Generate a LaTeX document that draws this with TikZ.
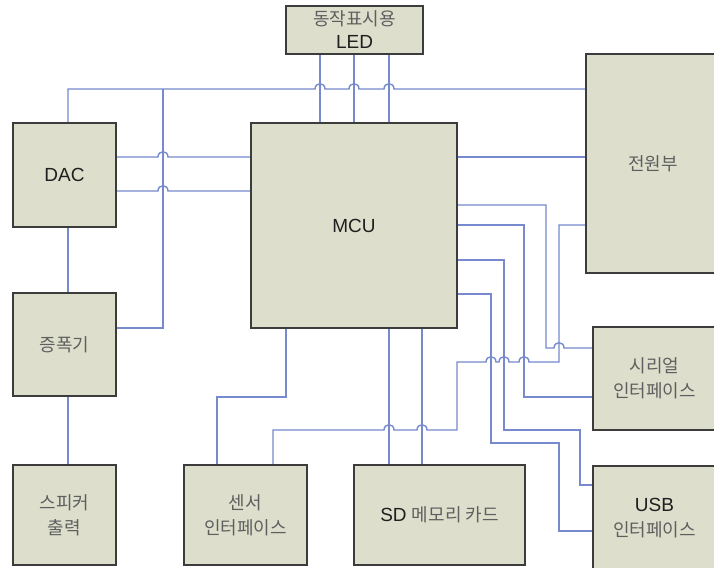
\documentclass[tikz,border=0pt]{standalone}
\usepackage{fontspec}
\setmainfont{Liberation Sans}
\newfontfamily\krfont{Noto Sans CJK KR}
\definecolor{wireblue}{RGB}{118,138,205}
\definecolor{boxfill}{RGB}{221,223,204}
\definecolor{boxline}{RGB}{60,60,60}
\definecolor{krtext}{RGB}{95,95,95}
\newcommand\hangul[1]{{\krfont\fontsize{18}{25}\selectfont\color{krtext}#1}}
\pgfdeclarelayer{background}
\pgfsetlayers{background,main}
\begin{document}
\begin{tikzpicture}[x=1pt,y=-1pt,
  box/.style={draw=boxline,fill=boxfill,line width=1.3pt,inner sep=0pt,align=center,
    font=\fontsize{19}{25}\selectfont,text=black!88},
  wire/.style={draw=wireblue,line width=1.4pt}]
\useasboundingbox (0,0) rectangle (714,567);
\clip (0,0) rectangle (714,567);

\node[box,minimum width=137pt,minimum height=48pt,font=\fontsize{19}{23}\selectfont] (led) at (354.5,30) {\hangul{동작표시용}\\LED};
\node[box,minimum width=103pt,minimum height=104pt] (dac) at (64.5,175) {DAC};
\node[box,minimum width=103pt,minimum height=103pt] (amp) at (64.5,344.5) {\hangul{증폭기}};
\node[box,minimum width=206pt,minimum height=205pt] (mcu) at (354,225.5) {MCU};
\node[box,minimum width=134pt,minimum height=219pt] (pwr) at (653,163.5) {\hangul{전원부}};
\node[box,minimum width=123pt,minimum height=103pt] (ser) at (654.5,378.5) {\hangul{시리얼}\\\hangul{인터페이스}};
\node[box,minimum width=123pt,minimum height=104pt] (usb) at (654.5,518) {USB\\\hangul{인터페이스}};
\node[box,minimum width=103pt,minimum height=100pt] (spk) at (64.5,515) {\hangul{스피커}\\\hangul{출력}};
\node[box,minimum width=123pt,minimum height=100pt] (sen) at (245.5,515) {\hangul{센서}\\\hangul{인터페이스}};
\node[box,minimum width=171pt,minimum height=100pt] (sd) at (439.5,515) {SD \hangul{메모리 카드}};

\begin{pgfonlayer}{background}
\fill[white] (0,0) rectangle (714,567);
% top bus
\draw[wire] (68,0 |- dac.north) -- (68,89)
  -- (315,89) .. controls (315,82) and (325,82) .. (325,89)
  -- (349,89) .. controls (349,82) and (359,82) .. (359,89)
  -- (384,89) .. controls (384,82) and (394,82) .. (394,89)
  -- (pwr.west |- 0,89);
\draw[wire] (amp.east |- 0,328) -- (163,328) -- (163,89);
% DAC - MCU
\draw[wire] (dac.east |- 0,157) -- (158,157) .. controls (158,150) and (168,150) .. (168,157) -- (mcu.west |- 0,157);
\draw[wire] (dac.east |- 0,191) -- (158,191) .. controls (158,184) and (168,184) .. (168,191) -- (mcu.west |- 0,191);
% LED - MCU
\foreach \x in {320,354,389} \draw[wire] (\x,0 |- led.south) -- (\x,0 |- mcu.north);
% DAC - amp - speaker
\draw[wire] (68,0 |- dac.south) -- (68,0 |- amp.north);
\draw[wire] (68,0 |- amp.south) -- (68,0 |- spk.north);
% MCU - power
\draw[wire] (mcu.east |- 0,157) -- (pwr.west |- 0,157);
% MCU right side
\draw[wire] (mcu.east |- 0,205) -- (546,205) -- (546,348)
  -- (554,348) .. controls (554,341) and (564,341) .. (564,348) -- (ser.west |- 0,348);
\draw[wire] (mcu.east |- 0,225) -- (524,225) -- (524,397) -- (ser.west |- 0,397);
\draw[wire] (mcu.east |- 0,260) -- (504,260) -- (504,430) -- (580,430) -- (580,485) -- (usb.west |- 0,485);
\draw[wire] (mcu.east |- 0,294) -- (491,294) -- (491,443) -- (559,443) -- (559,531) -- (usb.west |- 0,531);
% power - sensor
\draw[wire] (pwr.west |- 0,225) -- (559,225) -- (559,362)
  -- (529,362) .. controls (529,355) and (519,355) .. (519,362)
  -- (509,362) .. controls (509,355) and (499,355) .. (499,362)
  -- (496,362) .. controls (496,355) and (486,355) .. (486,362)
  -- (457,362) -- (457,430)
  -- (427,430) .. controls (427,423) and (417,423) .. (417,430)
  -- (394,430) .. controls (394,423) and (384,423) .. (384,430)
  -- (273,430) -- (273,0 |- sen.north);
% MCU - sensor
\draw[wire] (286,0 |- mcu.south) -- (286,397) -- (217,397) -- (217,0 |- sen.north);
% MCU - SD
\foreach \x in {389,422} \draw[wire] (\x,0 |- mcu.south) -- (\x,0 |- sd.north);
\end{pgfonlayer}
\end{tikzpicture}
\end{document}
